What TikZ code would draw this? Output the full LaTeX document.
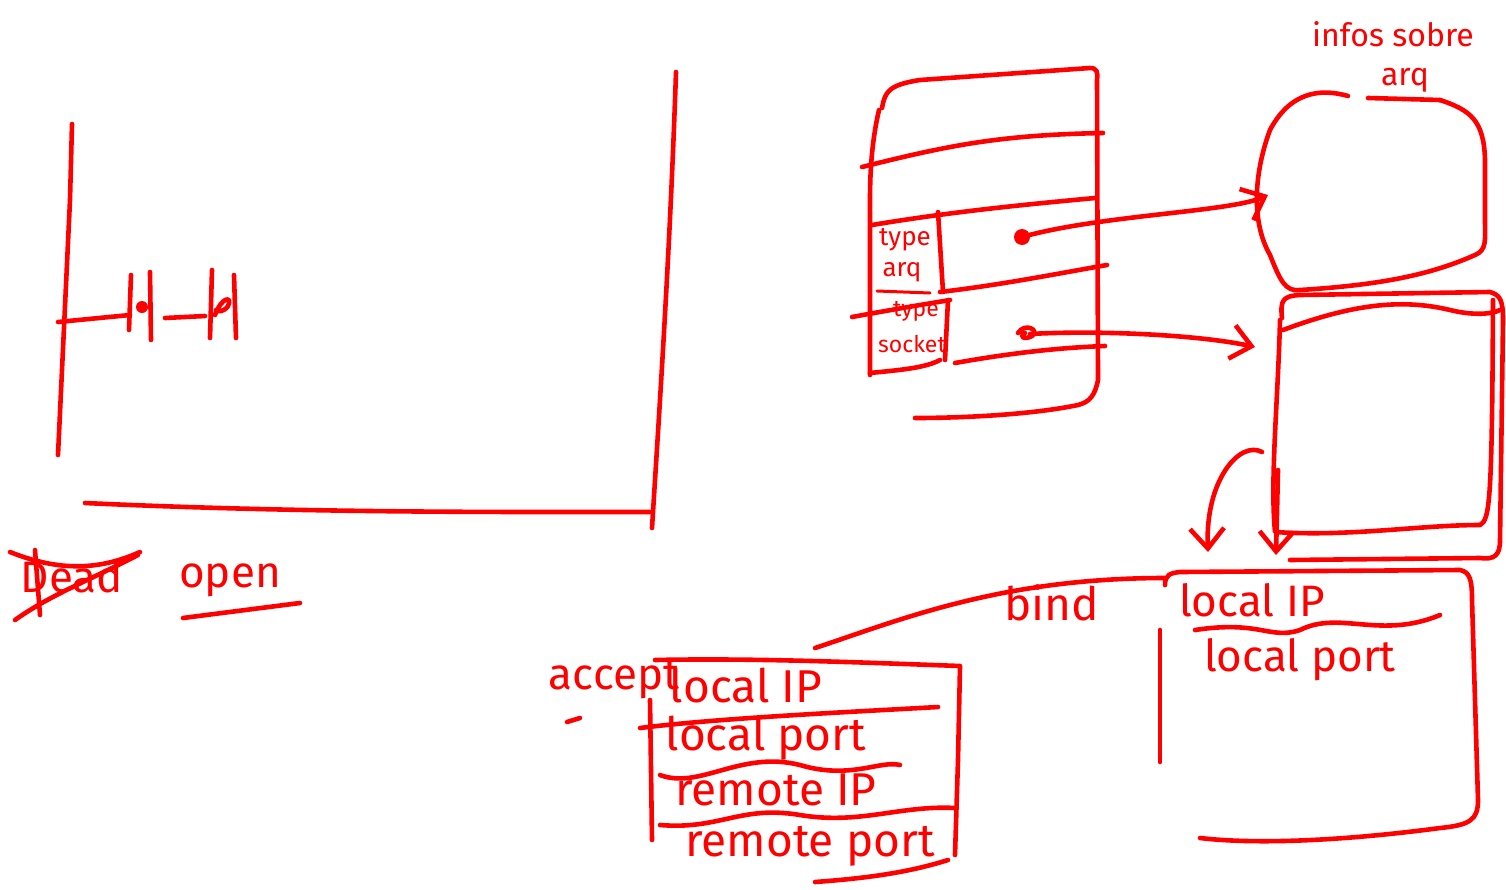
\documentclass[tikz,border=0pt]{standalone}
\usepackage{fontspec}
\setmainfont{Fira Sans}
\usetikzlibrary{arrows.meta}
\definecolor{ink}{RGB}{255,0,0}
\tikzset{
  pen/.style={draw=ink, line width=4.6pt, line cap=round, line join=round},
  hand/.style={text=ink, inner sep=0pt, font=\fontsize{#1}{#1}\selectfont},
  hand/.default=40,
  barb/.style={-{Straight Barb[length=20pt,width=34pt,line width=4.6pt]}}
}
\begin{document}
\begin{tikzpicture}[x=1pt,y=-1pt]
\useasboundingbox (0,0) rectangle (1506,889);

% ---------- left frame ----------
\draw[pen] (72,124) -- (70,200) -- (58,455);
\draw[pen] (85,503) .. controls (300,513) and (500,512) .. (650,512);
\draw[pen] (676,72) .. controls (670,250) and (660,400) .. (652,528);
\draw[pen] (58,322) -- (130,315);
\draw[pen] (131,275) -- (129,330);
\draw[pen] (150,272) -- (151,340);
\fill[ink] (142,307) circle (6pt);
\draw[pen] (165,318) -- (205,316);
\draw[pen] (212,270) -- (210,338);
\draw[pen] (234,275) -- (236,338);
\draw[pen] (215,315) .. controls (222,296) and (233,296) .. (228,306) .. controls (224,312) and (218,312) .. (216,310);

% ---------- Dead / open ----------
\node[hand=44] (dead) at (72,576) {Dead};
\draw[pen] (10,552) .. controls (60,572) and (100,570) .. (140,552);
\draw[pen] (15,620) .. controls (50,595) and (90,580) .. (138,555);
\draw[pen] (35,550) -- (40,615);
\node[hand=44] (open) at (230,580) {open};
\draw[pen] (183,618) -- (300,603);

% ---------- middle table ----------
\draw[pen] (882,108) .. controls (885,92) and (888,85) .. (920,80) -- (1090,68) .. controls (1097,68) and (1098,72) .. (1097,80) -- (1098,380) .. controls (1095,395) and (1090,402) .. (1078,405) .. controls (1030,415) and (960,418) .. (915,418);
\draw[pen] (879,110) .. controls (872,140) and (870,170) .. (870,200) -- (870,375);
\draw[pen] (862,167) .. controls (950,145) and (1000,135) .. (1103,133);
\draw[pen] (872,225) .. controls (950,212) and (1020,205) .. (1095,198);
\draw[pen] (940,292) .. controls (1000,285) and (1050,275) .. (1107,265);
\draw[pen] (852,317) .. controls (890,310) and (920,305) .. (950,300);
\draw[pen] (955,363) .. controls (1000,355) and (1050,348) .. (1105,346);
\draw[pen] (938,212) -- (943,292);
\draw[pen] (948,300) -- (945,360);
\draw[pen] (870,373) .. controls (900,370) and (925,368) .. (940,360);
\node[hand=26] (type1) at (905,240) {type};
\node[hand=26] (arq1) at (902,272) {arq};
\draw[pen,line width=3pt] (877,291) -- (930,293);
\node[hand=23] (type2) at (916,311) {type};
\node[hand=23] (sock) at (912,344) {socket};

\fill[ink] (1022,237) circle (8pt);
\coordinate (p1) at (1022,237);
\coordinate (t1) at (1268,195);
\draw[pen,barb] (p1) .. controls (1100,215) and (1230,212) .. (t1);
\draw[pen] (1018,333) .. controls (1025,322) and (1040,330) .. (1032,336) .. controls (1025,340) and (1018,337) .. (1025,333);
\coordinate (p2) at (1030,334);
\coordinate (t2) at (1255,347);
\draw[pen,barb] (p2) .. controls (1100,330) and (1200,335) .. (t2);

% ---------- info blob ----------
\node[hand=32] (infos) at (1393,34) {infos sobre};
\node[hand=32] (arq) at (1405,80) {arq};
\draw[pen] (1368,98) -- (1440,100);
\draw[pen] (1348,96) .. controls (1320,88) and (1290,92) .. (1270,130) .. controls (1255,170) and (1250,220) .. (1270,255) .. controls (1280,280) and (1285,292) .. (1300,290) .. controls (1380,285) and (1430,275) .. (1475,255) .. controls (1487,250) and (1485,240) .. (1485,220) -- (1485,160) .. controls (1484,120) and (1470,110) .. (1440,100);

% ---------- stacked boxes ----------
\draw[pen] (1282,318) .. controls (1280,300) and (1283,296) .. (1300,295) -- (1490,292) .. controls (1500,295) and (1503,300) .. (1503,320) -- (1500,540) .. controls (1500,555) and (1495,560) .. (1480,558) -- (1290,560);
\draw[pen] (1283,330) .. controls (1350,305) and (1400,298) .. (1450,310) .. controls (1470,315) and (1490,315) .. (1500,310);
\draw[pen] (1280,320) .. controls (1278,400) and (1270,480) .. (1275,532) .. controls (1350,537) and (1420,525) .. (1480,525) .. controls (1490,520) and (1492,500) .. (1493,300);
\coordinate (dtop) at (1278,470);
\coordinate (dbot) at (1276,555);
\draw[pen,barb] (dtop) -- (dbot);
\coordinate (c1) at (1262,452);
\coordinate (c2) at (1208,552);
\draw[pen,barb] (c1) .. controls (1240,440) and (1205,480) .. (c2);

% ---------- bind box ----------
\node[hand=46] (bind) at (1052,603) {bind};
\node[hand=44] (lip) at (1252,600) {local IP};
\node[hand=44] (lport) at (1300,660) {local port};
\draw[pen] (1165,585) .. controls (1165,575) and (1170,573) .. (1180,572) -- (1460,570) .. controls (1470,572) and (1472,580) .. (1472,600) -- (1478,800) .. controls (1478,820) and (1470,825) .. (1440,828) .. controls (1350,840) and (1260,845) .. (1200,838);
\draw[pen] (1160,630) -- (1160,762);
\draw[pen] (1195,630) .. controls (1260,620) and (1270,640) .. (1300,630) .. controls (1340,610) and (1380,640) .. (1440,615);
\draw[pen] (815,648) .. controls (900,620) and (1000,578) .. (1165,578);

% ---------- accept box ----------
\node[hand=44] (accept) at (614,680) {accept};
\draw[pen] (567,722) -- (580,718);
\node[hand=46] (aip) at (746,686) {local IP};
\node[hand=46] (aport) at (766,738) {local port};
\node[hand=46] (rip) at (776,790) {remote IP};
\node[hand=46] (rport) at (810,846) {remote port};
\draw[pen] (655,660) .. controls (750,658) and (850,662) .. (960,666) -- (958,760) -- (955,855);
\draw[pen] (650,700) -- (652,840);
\draw[pen] (815,882) .. controls (870,878) and (910,872) .. (948,860);
\draw[pen] (640,728) .. controls (720,718) and (850,712) .. (938,707);
\draw[pen] (660,775) .. controls (700,790) and (740,750) .. (800,765) .. controls (850,780) and (880,760) .. (900,765);
\draw[pen] (660,825) .. controls (720,830) and (740,805) .. (800,815) .. controls (860,825) and (900,805) .. (955,808);
\end{tikzpicture}
\end{document}
